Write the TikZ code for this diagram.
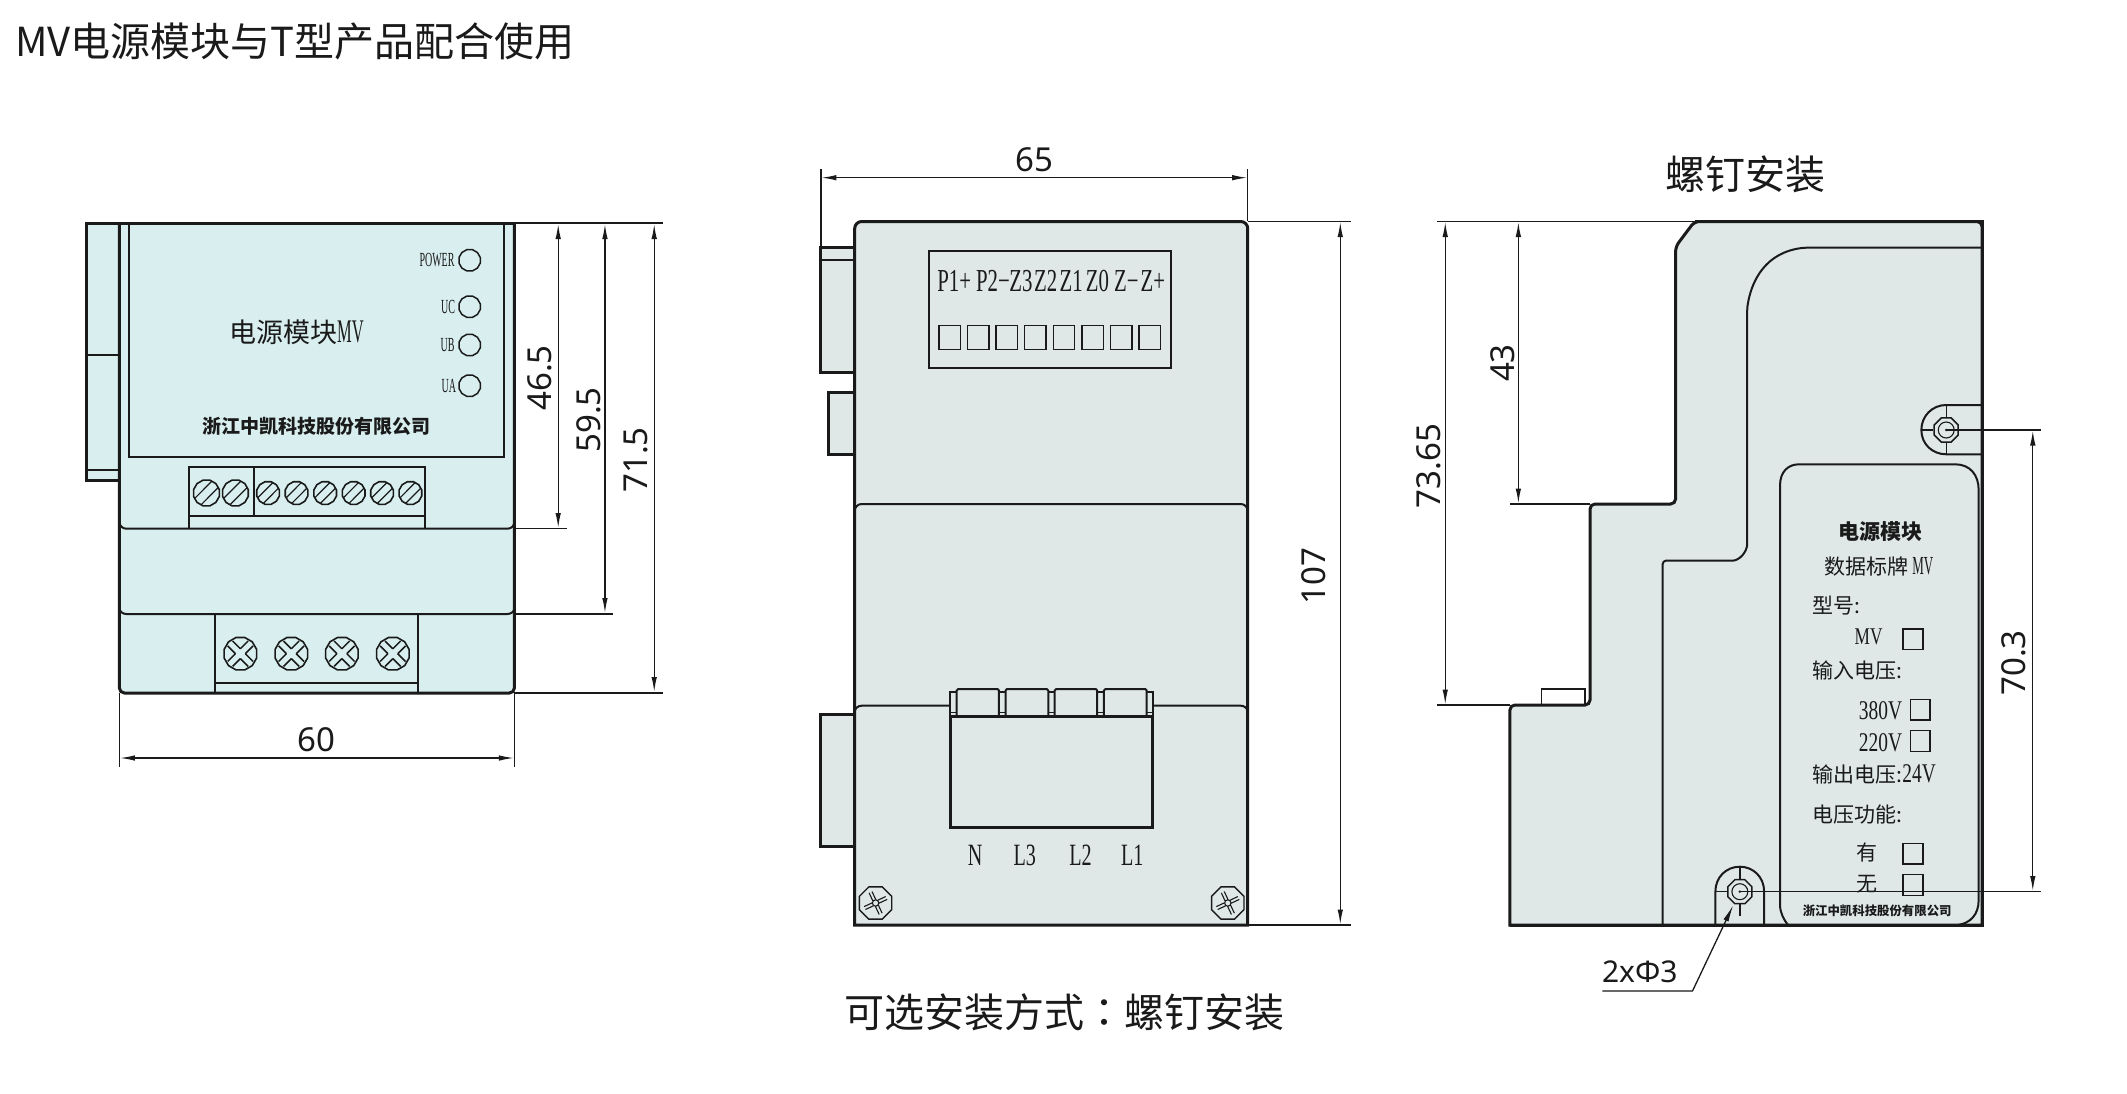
\documentclass[tikz,border=0pt]{standalone}
\usepackage{fontspec}
\usetikzlibrary{arrows.meta,shapes.geometric}
\setmainfont{Noto Sans}
\newfontfamily\cjk{Noto Sans CJK SC}
\newfontfamily\cjktc{Noto Sans CJK TC}
\newfontfamily\narrowf[FakeStretch=0.5]{Liberation Serif}
\newfontfamily\semif[FakeStretch=0.65]{Liberation Serif}
\newfontfamily\platef[FakeStretch=0.72]{Liberation Serif}
\newcommand\fs[1]{\fontsize{#1}{#1}\selectfont}
\definecolor{tealfill}{HTML}{D9EFEF}
\definecolor{greyfill}{HTML}{DFE7E7}
\definecolor{ink}{HTML}{1A1A1A}
\tikzset{
  thickline/.style={draw=ink,line width=3pt},
  midline/.style={draw=ink,line width=2pt},
  thinline/.style={draw=ink,line width=1.4pt},
  dimline/.style={draw=ink,line width=1.3pt},
  dimarrow/.style={dimline,{Latex[length=15pt,width=5.5pt]}-{Latex[length=15pt,width=5.5pt]}},
  txt/.style={inner sep=0pt,text=ink},
  dimtxt/.style={txt,font=\fs{33}},
  cjktxt/.style={txt,font=\cjk\fs{#1}},
  cjkl/.style={txt,anchor=west,font=\cjk\fs{#1}},
  nartxt/.style={txt,font=\narrowf\fs{#1}},
  semtxt/.style={txt,font=\semif\fs{#1}},
  platetxt/.style={txt,font=\platef\fs{#1}},
  sq/.style={thinline}
}
% hatched terminal screw: x, y, radius
\newcommand\hatchscrew[3]{%
  \begin{scope}[shift={(#1,#2)}]
    \begin{scope}
      \clip (0,0) circle (#3);
      \foreach \d in {-0.72,-0.24,0.24,0.72}
        {\draw[thinline,line width=1.2pt] ({\d*#3-#3},{#3+\d*#3}) -- ({\d*#3+#3},{-#3+\d*#3});}
    \end{scope}
    \node[regular polygon,regular polygon sides=12,draw=ink,line width=1.6pt,inner sep=0pt,minimum size=2*#3 pt] at (0,0) {};
  \end{scope}}
% cross-head screw: x, y, radius
\newcommand\crossscrew[3]{%
  \begin{scope}[shift={(#1,#2)}]
    \node[regular polygon,regular polygon sides=12,draw=ink,line width=1.6pt,inner sep=0pt,minimum size=2*#3 pt] at (0,0) {};
    \begin{scope}[rotate=45]
      \draw[thinline,line width=1.5pt]
        (-3.5,-3.5) -- (-3.5,-14.5) (3.5,-3.5) -- (3.5,-14.5)
        (-3.5,3.5) -- (-3.5,14.5) (3.5,3.5) -- (3.5,14.5)
        (-3.5,-3.5) -- (-14.5,-3.5) (-3.5,3.5) -- (-14.5,3.5)
        (3.5,-3.5) -- (14.5,-3.5) (3.5,3.5) -- (14.5,3.5);
    \end{scope}
  \end{scope}}
% corner screw: x, y
\newcommand\cornerscrew[2]{%
  \begin{scope}[shift={(#1,#2)}]
    \node[regular polygon,regular polygon sides=8,draw=ink,line width=1.4pt,inner sep=0pt,minimum size=35pt,fill=greyfill] at (0,0) {};
    \begin{scope}[rotate=25]
      \foreach \a in {0,90,180,270} {
        \begin{scope}[rotate=\a]
          \draw[thinline,line width=1.1pt] (3,1.6) -- (12,1.6) (3,-1.6) -- (12,-1.6);
        \end{scope}
      }
    \end{scope}
    \draw[thinline,line width=1.1pt] (0,0) circle (3.2);
  \end{scope}}
% mounting hole centre: x, y
\newcommand\holecentre[2]{%
  \node[regular polygon,regular polygon sides=8,draw=ink,line width=1.5pt,inner sep=0pt,minimum size=26pt] at (#1,#2) {};
  \draw[thinline,line width=1.1pt] (#1,#2) circle (8);
  \fill[ink] (#1,#2) circle (1.4);}
\begin{document}
\begin{tikzpicture}[x=0.995pt,y=-1pt]
\useasboundingbox (0,0) rectangle (2137.7,1094);
\fill[white] (0,0) rectangle (2137.7,1094);

% title
\node[cjkl=40] (title) at (15,41) {MV电源模块与T型产品配合使用};

% ===== view 1 =====
\filldraw[fill=tealfill,thickline] (120,223) -- (87,223) -- (87,480) -- (120,480);
\draw[thinline] (87,355) -- (120,355) (87,470) -- (120,470);
\filldraw[fill=tealfill,thickline,rounded corners=5pt] (120,223) -- (120,693) -- (517,693) -- (517,223);
\draw[thickline] (87,223) -- (517,223);
\draw[midline] (130,223) -- (130,457) -- (507,457) -- (507,223);
\draw[midline] (120,522) to[out=-90,in=180] (127,528.7) -- (510,528.7) to[out=0,in=-90] (517,522);
\draw[midline] (120,608) to[out=-90,in=180] (127,614) -- (510,614) to[out=0,in=-90] (517,608);
\draw[midline] (189.5,528.7) -- (189.5,466.7) -- (427,466.7) -- (427,528.7);
\draw[midline] (189.5,515.7) -- (427,515.7) (255.5,466.7) -- (255.5,515.7);
\hatchscrew{207.5}{493}{13.3}
\hatchscrew{236.6}{493}{13.3}
\foreach \x in {269.4,298,326.8,355.5,384,412.5} {\hatchscrew{\x}{493}{11.7}}
\draw[midline] (215.7,614) -- (215.7,693) (420,614) -- (420,693);
\draw[thinline] (215.7,683) -- (420,683);
\foreach \x in {241.6,292.8,343.6,394.8} {\crossscrew{\x}{653.7}{16.8}}
\foreach \n/\y/\lab/\xr in {a/260.3/POWER/457,b/306.7/UC/457.5,c/345/UB/457,d/385.7/UA/458.5} {
  \node[regular polygon,regular polygon sides=12,draw=ink,line width=1.5pt,inner sep=0pt,minimum size=22pt] (led\n) at (472,\y) {};
  \node[nartxt=20,anchor=east] (ledlab\n) at (\xr,\y) {\lab};
}
\node[txt,font=\cjk\fs{27}] (name1) at (298,332) {电源模块{\narrowf\fs{33}MV}};
\node[txt,font=\cjk\bfseries\fs{19}] (co1) at (318,426) {浙江中凯科技股份有限公司};
% dims view 1
\draw[dimline] (517,223) -- (666,223);
\draw[dimline] (517,528.7) -- (570,528.7);
\draw[dimline] (517,614) -- (616.5,614);
\draw[dimline] (517,693) -- (666,693);
\draw[dimarrow] (561,224) -- (561,528);
\draw[dimarrow] (608,224) -- (608,613);
\draw[dimarrow] (657.5,224) -- (657.5,692);
\node[dimtxt,rotate=90] (d465) at (542,378) {46.5};
\node[dimtxt,rotate=90] (d595) at (592,420) {59.5};
\node[dimtxt,rotate=90] (d715) at (639,460) {71.5};
\draw[dimline] (120,693) -- (120,767) (517,693) -- (517,767);
\draw[dimarrow] (120.5,758) -- (516.5,758);
\node[dimtxt] (d60) at (318,740) {60};

% ===== view 2 =====
\filldraw[fill=greyfill,thickline] (859,247.7) -- (825,247.7) -- (825,372.3) -- (859,372.3);
\draw[thinline] (825,260) -- (859,260);
\filldraw[fill=greyfill,thickline] (859,392.3) -- (833,392.3) -- (833,454.3) -- (859,454.3);
\filldraw[fill=greyfill,thickline] (859,714) -- (825,714) -- (825,846) -- (859,846);
\filldraw[fill=greyfill,thickline] (859,925) [rounded corners=7pt] -- (859,221.5) -- (1254,221.5) [sharp corners] -- (1254,925) -- cycle;
\draw[midline] (859,511) to[out=90,in=180] (866,504) -- (1247,504) to[out=0,in=90] (1254,511);
\draw[midline] (859,712) to[out=90,in=180] (866,705.7) -- (955,705.7)  (1158.6,705.7) -- (1247,705.7) to[out=0,in=90] (1254,712);
\draw[midline] (934,251) rectangle (1177,368);
\foreach \x/\lab in {959/P1+,998/P2−,1026/Z3,1051/Z2,1076.5/Z1,1103/Z0,1132/Z−,1158.6/Z+} {
  \node[semtxt=32] at (\x,281) {\lab};
}
\foreach \i in {0,...,7} {
  \draw[sq] ({943.6+\i*28.75},325.7) rectangle ++(21.5,23.6);
}
% lower terminal
\filldraw[fill=greyfill,midline] (955,716) -- (955,692.3) -- (1158.6,692.3) -- (1158.6,716);
\draw[thinline] (955,712.7) -- (1158.6,712.7);
\foreach \xa/\xb in {961.5/1004,1010.6/1053.6,1060/1102.7,1109.5/1152.5} {
  \filldraw[fill=greyfill,midline,rounded corners=1.5pt] (\xa,716) -- (\xa,689) -- (\xb,689) -- (\xb,716);
}
\filldraw[fill=greyfill,thickline] (955,716) rectangle (1158.6,827.3);
\foreach \x/\lab in {980/N,1030/L3,1086/L2,1138/L1} {
  \node[semtxt=31] at (\x,855) {\lab};
}
\cornerscrew{880}{903}
\cornerscrew{1234}{903}
\node[cjktxt=40] (method) at (1070,1012) {可选安装方式{\cjktc：}螺钉安装};
% dims view 2
\draw[dimline] (825,247) -- (825,169) (1254,221) -- (1254,169);
\draw[dimarrow] (825.5,177.7) -- (1253.5,177.7);
\node[dimtxt] (d65) at (1040,160) {65};
\draw[dimline] (1254,221.5) -- (1358,221.5) (1254,925) -- (1358,925);
\draw[dimarrow] (1347,222) -- (1347,924.5);
\node[dimtxt,rotate=90] (d107) at (1320,576) {107};

% ===== view 3 =====
\filldraw[fill=greyfill,thickline,rounded corners=5pt]
  (1703,221.5) -- (1992,221.5) [sharp corners] -- (1992,925) -- (1517.5,925) [rounded corners=5pt] -- (1517.5,705) -- (1598,705) -- (1598,504) -- (1684,504) -- (1684,246.7) -- cycle;
\draw[thickline] (1703,221.5) -- (1992,221.5) -- (1992,925) -- (1517.5,925);
\draw[midline,rounded corners=2pt] (1992,247.7) -- (1813.6,247.7)
   .. controls (1775,252) and (1760,280) .. (1756,308) -- (1756,541.7)
   .. controls (1756,552) and (1748,560.7) .. (1739,560.7) -- (1676,560.7)
   .. controls (1673,560.7) and (1671,562) .. (1671,566) -- (1671,925);
\draw[thinline] (1549,705) -- (1549,689) -- (1593,689) -- (1593,705);
% plate
\draw[midline] (1797,925) .. controls (1793,920) and (1789,913) .. (1789,905) -- (1789,485) .. controls (1789,472) and (1797,464.3) .. (1808,464.3) -- (1965,464.3) .. controls (1980,464.3) and (1988.6,475) .. (1988.6,490) -- (1988.6,900) .. controls (1988.6,915) and (1980,923) .. (1968,925);
\node[txt,font=\cjk\bfseries\fs{21}] (p1) at (1890,532) {电源模块};
\node[cjktxt=21] (p2) at (1888.4,567) {数据标牌{\,\narrowf\fs{26}MV}};
\node[cjkl=21] (p3) at (1821.4,606) {型号:};
\node[platetxt=24] (p4) at (1878,637) {MV};
\node[cjkl=21] (p5) at (1821.4,670) {输入电压:};
\node[platetxt=27] (p6) at (1890,711) {380V};
\node[platetxt=27] (p7) at (1890,742.5) {220V};
\node[cjkl=21] (p8) at (1821.4,774.5) {输出电压:{\platef\fs{27}24V}};
\node[cjkl=21] (p9) at (1821.4,815) {电压功能:};
\node[cjktxt=21] (p10) at (1876,852.5) {有};
\node[cjktxt=21] (p11) at (1876,884.5) {无};
\node[txt,font=\cjk\bfseries\fs{12.4}] (p12) at (1886.6,910.7) {浙江中凯科技股份有限公司};
\draw[sq] (1912.6,629) rectangle (1932.5,649.3);
\draw[sq] (1919.8,699.3) rectangle (1939.7,720);
\draw[sq] (1919.8,730.7) rectangle (1939.7,751.3);
\draw[sq] (1912.6,843.3) rectangle (1932.5,864);
\draw[sq] (1912.6,874.7) rectangle (1932.5,895.3);
% upper mount
\draw[midline] (1992,405) -- (1956,405) .. controls (1942,405) and (1931,416) .. (1931,430) .. controls (1931,444) and (1942,454.3) .. (1956,454.3) -- (1992,454.3);
\draw[thinline] (1931,430) -- (1943,430) (1956,405) -- (1956,417) (1956,443) -- (1956,454.3);
\holecentre{1956}{430}
% lower mount
\draw[midline] (1724,925) -- (1724,891.7) .. controls (1724,877) and (1735,866.7) .. (1748.6,866.7) .. controls (1762,866.7) and (1773,877) .. (1773,891.7) -- (1773,925);
\draw[thinline] (1724,891.7) -- (1736,891.7) (1748.6,866.7) -- (1748.6,879) (1748.6,904) -- (1748.6,916);
\holecentre{1748.6}{891.7}
% dims view 3
\draw[dimline] (1956,430) -- (2051,430) (1748.6,891.7) -- (2051,891.7);
\draw[dimarrow] (2043,430.5) -- (2043,891);
\node[dimtxt,rotate=90] (d703) at (2024,663) {70.3};
\draw[dimline] (1444,221.5) -- (1703,221.5) (1444,705) -- (1517.5,705) (1518,504) -- (1598,504);
\draw[dimarrow] (1452.5,222) -- (1452.5,704.5);
\draw[dimarrow] (1526,222) -- (1526,503.5);
\node[dimtxt,rotate=90] (d7365) at (1436,466) {73.65};
\node[dimtxt,rotate=90] (d43) at (1510,363) {43};
\node[cjktxt=40] (t3) at (1754,174) {螺钉安装};
\coordinate (lead) at (1701,991);
\draw[dimline,-{Latex[length=17pt,width=5.5pt]}] (1610.5,991) -- (lead) -- (1742,905);
\node[txt,font=\fs{30}] (phi) at (1648,972) {2xΦ3};
\end{tikzpicture}
\end{document}
